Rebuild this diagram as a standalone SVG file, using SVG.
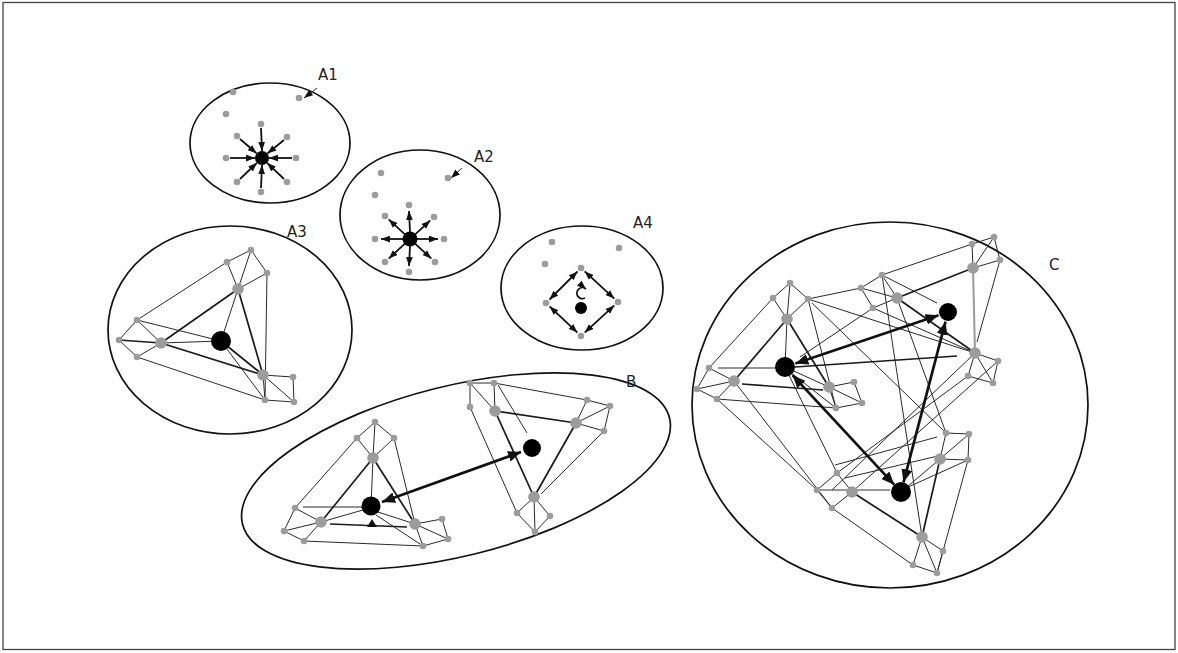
<svg xmlns="http://www.w3.org/2000/svg" width="1178" height="653" viewBox="0 0 1178 653">
<style>
.frame{fill:#fff;stroke:#444;stroke-width:1.3}
.ell{fill:none;stroke:#111;stroke-width:1.7}
.lbl{font-family:"DejaVu Sans",sans-serif;font-size:15px;fill:#222}
.t{stroke:#2a2a2a;stroke-width:1;fill:none}
.m{stroke:#1a1a1a;stroke-width:1.7;fill:none}
.g{stroke:#999;stroke-width:2;fill:none}
.sp{stroke:#111;stroke-width:1.8;fill:none}
.big{stroke:#111;stroke-width:2.7;fill:none}
.d{fill:#9c9c9c}
.h{fill:#000}
</style>
<defs>
<marker id="s" viewBox="0 0 8 6" refX="8" refY="3" markerWidth="9" markerHeight="7" markerUnits="userSpaceOnUse" orient="auto-start-reverse"><path d="M0,0 L8,3 L0,6 z" fill="#111"/></marker>
<marker id="b" viewBox="0 0 12 10" refX="12" refY="5" markerWidth="13" markerHeight="11" markerUnits="userSpaceOnUse" orient="auto-start-reverse"><path d="M0,0 L12,5 L0,10 z" fill="#111"/></marker>
</defs>
<rect class="frame" x="3" y="2.5" width="1172" height="647"/>

<g id="A1"><ellipse class="ell" cx="270" cy="143" rx="80" ry="60"/><text class="lbl" x="318" y="80">A1</text></g>
<g id="A2"><ellipse class="ell" cx="420" cy="215" rx="80" ry="65"/><text class="lbl" x="474" y="162">A2</text></g>
<g id="A3"><ellipse class="ell" cx="230" cy="330" rx="122" ry="104"/><text class="lbl" x="287" y="237">A3</text></g>
<g id="A4"><ellipse class="ell" cx="582" cy="288" rx="81" ry="62"/><text class="lbl" x="633" y="228">A4</text></g>
<g id="B"><ellipse class="ell" cx="456" cy="471" rx="220" ry="85" transform="rotate(-14 456 471)"/><text class="lbl" x="626" y="387">B</text></g>
<g id="C"><ellipse class="ell" cx="890" cy="405" rx="198" ry="183"/><text class="lbl" x="1049" y="270">C</text></g>

<g id="connectors">
<line class="t" x1="317" y1="88" x2="304" y2="98" marker-end="url(#s)"/>
<line class="t" x1="462" y1="168" x2="451" y2="178" marker-end="url(#s)"/>
<g class="sp" marker-end="url(#s)">
<line x1="261" y1="128" x2="262" y2="151"/>
<line x1="284" y1="140" x2="267.4" y2="153.5"/>
<line x1="292" y1="158" x2="269" y2="158"/>
<line x1="284" y1="179" x2="267" y2="162.8"/>
<line x1="261" y1="188" x2="262" y2="165"/>
<line x1="240" y1="179" x2="257" y2="162.8"/>
<line x1="230" y1="158" x2="255" y2="158"/>
<line x1="240" y1="139" x2="256.7" y2="153.4"/>
</g>
<g class="sp" marker-end="url(#s)">
<line x1="410" y1="232" x2="409" y2="211"/>
<line x1="415.2" y1="234.3" x2="430.3" y2="220.4"/>
<line x1="417" y1="239" x2="438" y2="239"/>
<line x1="415.1" y1="243.7" x2="431.3" y2="258.6"/>
<line x1="410" y1="246" x2="409" y2="266"/>
<line x1="404.9" y1="243.7" x2="388.7" y2="258.6"/>
<line x1="403" y1="239" x2="381" y2="239"/>
<line x1="404.9" y1="234.3" x2="388.7" y2="219.4"/>
</g>
<g class="sp" marker-start="url(#s)" marker-end="url(#s)">
<line x1="584.7" y1="271.4" x2="614.3" y2="298.6"/>
<line x1="614.3" y1="305.4" x2="584.7" y2="332.6"/>
<line x1="577.4" y1="332.6" x2="549.6" y2="306.4"/>
<line x1="549.5" y1="299.5" x2="577.5" y2="271.5"/>
</g>
<path class="sp" d="M585,298 A5.5,5.5 0 1 1 586,289" marker-end="url(#s)"/>

<g class="t">
<line x1="251" y1="250" x2="227" y2="262"/><line x1="251" y1="250" x2="267" y2="273"/><line x1="251" y1="250" x2="238" y2="289"/><line x1="227" y1="262" x2="238" y2="289"/><line x1="267" y1="273" x2="238" y2="289"/>
<line x1="137" y1="320" x2="119" y2="340"/><line x1="119" y1="340" x2="137" y2="357"/><line x1="137" y1="320" x2="161" y2="343"/><line x1="137" y1="357" x2="161" y2="343"/>
<line x1="263" y1="375" x2="293" y2="377"/><line x1="293" y1="377" x2="294" y2="402"/><line x1="294" y1="402" x2="265" y2="400"/><line x1="265" y1="400" x2="263" y2="375"/><line x1="263" y1="375" x2="294" y2="402"/>
<line x1="227" y1="262" x2="137" y2="320"/><line x1="267" y1="273" x2="265" y2="400"/><line x1="137" y1="357" x2="265" y2="400"/>
<line x1="221" y1="341" x2="238" y2="289"/><line x1="221" y1="341" x2="161" y2="343"/><line x1="137" y1="320" x2="221" y2="341"/><line x1="221" y1="341" x2="265" y2="400"/>
</g>
<g class="m">
<line x1="119" y1="340" x2="161" y2="343"/><line x1="238" y1="289" x2="161" y2="343"/><line x1="161" y1="343" x2="263" y2="375"/><line x1="238" y1="289" x2="263" y2="375"/><line x1="221" y1="341" x2="263" y2="375"/>
</g>

<g class="t">
<line x1="375" y1="422" x2="357" y2="438"/><line x1="375" y1="422" x2="394" y2="438"/><line x1="375" y1="422" x2="373" y2="458"/><line x1="357" y1="438" x2="373" y2="458"/><line x1="394" y1="438" x2="373" y2="458"/>
<line x1="373" y1="458" x2="371" y2="506"/><line x1="357" y1="438" x2="295" y2="508"/><line x1="394" y1="438" x2="415" y2="524"/>
<line x1="295" y1="508" x2="284" y2="531"/><line x1="284" y1="531" x2="304" y2="541"/><line x1="295" y1="508" x2="321" y2="522"/><line x1="284" y1="531" x2="321" y2="522"/><line x1="304" y1="541" x2="321" y2="522"/>
<line x1="303" y1="507" x2="363" y2="507"/><line x1="321" y1="522" x2="363" y2="510"/>
<line x1="378" y1="512" x2="415" y2="524"/><line x1="376" y1="515" x2="423" y2="546"/><line x1="304" y1="541" x2="423" y2="546"/>
<line x1="415" y1="524" x2="442" y2="519"/><line x1="442" y1="519" x2="448" y2="539"/><line x1="448" y1="539" x2="423" y2="546"/><line x1="415" y1="524" x2="448" y2="539"/><line x1="415" y1="524" x2="423" y2="546"/>
</g>
<g class="m">
<line x1="373" y1="458" x2="321" y2="522"/><line x1="373" y1="458" x2="415" y2="524"/><line x1="330" y1="524" x2="407" y2="527"/>
</g>
<path d="M372,519 L367,527 L377,527 z" fill="#111"/>

<g class="t">
<line x1="470" y1="383" x2="494" y2="383"/><line x1="470" y1="383" x2="470" y2="407"/><line x1="470" y1="383" x2="495" y2="411"/><line x1="494" y1="383" x2="495" y2="411"/>
<line x1="494" y1="383" x2="587" y2="400"/><line x1="498" y1="385" x2="527" y2="433"/><line x1="470" y1="407" x2="517" y2="513"/><line x1="604" y1="431" x2="541" y2="494"/>
<line x1="587" y1="400" x2="610" y2="406"/><line x1="587" y1="400" x2="576" y2="423"/><line x1="610" y1="406" x2="576" y2="423"/><line x1="610" y1="406" x2="604" y2="431"/><line x1="576" y1="423" x2="604" y2="431"/>
<line x1="534" y1="497" x2="517" y2="513"/><line x1="534" y1="497" x2="550" y2="516"/><line x1="534" y1="497" x2="535" y2="532"/><line x1="517" y1="513" x2="535" y2="532"/><line x1="550" y1="516" x2="535" y2="532"/>
</g>
<g class="m">
<line x1="495" y1="411" x2="576" y2="423"/><line x1="495" y1="411" x2="534" y2="497"/><line x1="576" y1="423" x2="534" y2="497"/>
</g>
<line class="big" x1="521" y1="452" x2="382" y2="502" marker-start="url(#b)" marker-end="url(#b)"/>

<g class="t">
<line x1="790" y1="283" x2="773" y2="298"/><line x1="790" y1="283" x2="808" y2="299"/><line x1="790" y1="283" x2="787" y2="319"/><line x1="773" y1="298" x2="787" y2="319"/><line x1="808" y1="299" x2="787" y2="319"/>
<line x1="709" y1="368" x2="697" y2="389"/><line x1="697" y1="389" x2="717" y2="399"/><line x1="709" y1="368" x2="734" y2="381"/><line x1="697" y1="389" x2="734" y2="381"/><line x1="717" y1="399" x2="734" y2="381"/>
<line x1="829" y1="387" x2="854" y2="382"/><line x1="854" y1="382" x2="862" y2="403"/><line x1="862" y1="403" x2="836" y2="408"/><line x1="829" y1="387" x2="862" y2="403"/><line x1="829" y1="387" x2="836" y2="408"/>
<line x1="773" y1="298" x2="709" y2="368"/><line x1="717" y1="399" x2="836" y2="408"/><line x1="808" y1="299" x2="836" y2="408"/>
<line x1="787" y1="319" x2="785" y2="367"/><line x1="718" y1="368" x2="775" y2="368"/><line x1="785" y1="367" x2="829" y2="387"/><line x1="790" y1="372" x2="836" y2="408"/>
</g>
<g class="m">
<line x1="787" y1="319" x2="734" y2="381"/><line x1="742" y1="384" x2="823" y2="390"/><line x1="787" y1="319" x2="829" y2="387"/>
</g>
<g class="t">
<line x1="882" y1="275" x2="861" y2="288"/><line x1="861" y1="288" x2="873" y2="308"/><line x1="882" y1="275" x2="897" y2="298"/><line x1="861" y1="288" x2="897" y2="298"/><line x1="873" y1="308" x2="897" y2="298"/>
<line x1="972" y1="244" x2="994" y2="237"/><line x1="994" y1="237" x2="1000" y2="260"/><line x1="972" y1="244" x2="973" y2="268"/><line x1="994" y1="237" x2="973" y2="268"/><line x1="1000" y1="260" x2="973" y2="268"/>
<line x1="975" y1="353" x2="998" y2="361"/><line x1="998" y1="361" x2="993" y2="383"/><line x1="993" y1="383" x2="968" y2="376"/><line x1="975" y1="353" x2="968" y2="376"/><line x1="975" y1="353" x2="993" y2="383"/>
<line x1="882" y1="275" x2="972" y2="244"/><line x1="1000" y1="260" x2="977" y2="342"/><line x1="873" y1="308" x2="975" y2="353"/><line x1="882" y1="275" x2="937" y2="303"/>
</g>
<g class="m">
<line x1="897" y1="298" x2="973" y2="268"/><line x1="897" y1="298" x2="975" y2="353"/>
</g>
<line class="g" x1="973" y1="268" x2="975" y2="353"/>
<g class="t">
<line x1="837" y1="473" x2="817" y2="490"/><line x1="817" y1="490" x2="832" y2="508"/><line x1="837" y1="473" x2="852" y2="492"/><line x1="832" y1="508" x2="852" y2="492"/>
<line x1="946" y1="433" x2="969" y2="434"/><line x1="969" y1="434" x2="968" y2="460"/><line x1="946" y1="433" x2="940" y2="459"/><line x1="969" y1="434" x2="940" y2="459"/><line x1="968" y1="460" x2="940" y2="459"/>
<line x1="922" y1="537" x2="943" y2="551"/><line x1="943" y1="551" x2="937" y2="573"/><line x1="937" y1="573" x2="913" y2="565"/><line x1="913" y1="565" x2="922" y2="537"/><line x1="922" y1="537" x2="937" y2="573"/>
<line x1="832" y1="508" x2="913" y2="565"/><line x1="968" y1="460" x2="937" y2="573"/><line x1="835" y1="465" x2="937" y2="437"/>
<line x1="901" y1="492" x2="940" y2="459"/><line x1="906" y1="488" x2="968" y2="460"/><line x1="845" y1="478" x2="942" y2="455"/>
</g>
<line class="g" x1="817" y1="490" x2="890" y2="490"/>
<g class="m">
<line x1="852" y1="492" x2="922" y2="537"/><line x1="940" y1="459" x2="922" y2="537"/>
</g>
<g class="t">
<line x1="808" y1="299" x2="861" y2="288"/><line x1="812" y1="303" x2="946" y2="433"/><line x1="873" y1="308" x2="800" y2="357"/>
<line x1="968" y1="376" x2="837" y2="473"/><line x1="975" y1="353" x2="832" y2="490"/><line x1="998" y1="361" x2="852" y2="492"/>
<line x1="897" y1="298" x2="946" y2="433"/><line x1="882" y1="275" x2="922" y2="537"/>
<line x1="717" y1="399" x2="817" y2="490"/><line x1="734" y1="381" x2="832" y2="508"/><line x1="785" y1="367" x2="837" y2="473"/>
<line x1="808" y1="299" x2="975" y2="353"/>
</g>
<line class="m" x1="795" y1="367" x2="957" y2="356"/>
<g class="big" marker-start="url(#b)" marker-end="url(#b)">
<line x1="795.4" y1="363.5" x2="938.5" y2="315.2"/>
<line x1="792.5" y1="375.1" x2="894.2" y2="484.7"/>
<line x1="945.5" y1="321.7" x2="903.5" y2="482.3"/>
</g>
</g>

<g id="dots">
<g class="d">
<circle cx="233" cy="92" r="3.3"/><circle cx="299" cy="98" r="3.3"/><circle cx="226" cy="114" r="3.3"/><circle cx="261" cy="124" r="3.3"/><circle cx="287" cy="137" r="3.3"/><circle cx="296" cy="158" r="3.3"/><circle cx="287" cy="182" r="3.3"/><circle cx="261" cy="192" r="3.3"/><circle cx="237" cy="182" r="3.3"/><circle cx="226" cy="158" r="3.3"/><circle cx="237" cy="136" r="3.3"/>
<circle cx="381" cy="173" r="3.3"/><circle cx="448" cy="178" r="3.3"/><circle cx="375" cy="195" r="3.3"/><circle cx="409" cy="205" r="3.3"/><circle cx="434" cy="217" r="3.3"/><circle cx="444" cy="239" r="3.3"/><circle cx="435" cy="262" r="3.3"/><circle cx="409" cy="272" r="3.3"/><circle cx="385" cy="262" r="3.3"/><circle cx="375" cy="239" r="3.3"/><circle cx="385" cy="216" r="3.3"/>
<circle cx="552" cy="242" r="3.3"/><circle cx="619" cy="248" r="3.3"/><circle cx="545" cy="264" r="3.3"/><circle cx="581" cy="268" r="3.3"/><circle cx="618" cy="302" r="3.3"/><circle cx="581" cy="336" r="3.3"/><circle cx="546" cy="303" r="3.3"/>
<circle cx="251" cy="250" r="3.3"/><circle cx="227" cy="262" r="3.3"/><circle cx="267" cy="273" r="3.3"/><circle cx="137" cy="320" r="3.3"/><circle cx="119" cy="340" r="3.3"/><circle cx="137" cy="357" r="3.3"/><circle cx="293" cy="377" r="3.3"/><circle cx="265" cy="400" r="3.3"/><circle cx="294" cy="402" r="3.3"/>
<circle cx="238" cy="289" r="5.8"/><circle cx="161" cy="343" r="5.8"/><circle cx="263" cy="375" r="5.8"/>
<circle cx="375" cy="422" r="3.3"/><circle cx="357" cy="438" r="3.3"/><circle cx="394" cy="438" r="3.3"/><circle cx="295" cy="508" r="3.3"/><circle cx="284" cy="531" r="3.3"/><circle cx="304" cy="541" r="3.3"/><circle cx="442" cy="519" r="3.3"/><circle cx="448" cy="539" r="3.3"/><circle cx="423" cy="546" r="3.3"/>
<circle cx="373" cy="458" r="5.8"/><circle cx="321" cy="522" r="5.8"/><circle cx="415" cy="524" r="5.8"/>
<circle cx="470" cy="383" r="3.3"/><circle cx="494" cy="383" r="3.3"/><circle cx="470" cy="407" r="3.3"/><circle cx="587" cy="400" r="3.3"/><circle cx="610" cy="406" r="3.3"/><circle cx="604" cy="431" r="3.3"/><circle cx="517" cy="513" r="3.3"/><circle cx="550" cy="516" r="3.3"/><circle cx="535" cy="532" r="3.3"/>
<circle cx="495" cy="411" r="5.8"/><circle cx="576" cy="423" r="5.8"/><circle cx="534" cy="497" r="5.8"/>
<circle cx="790" cy="283" r="3.3"/><circle cx="773" cy="298" r="3.3"/><circle cx="808" cy="299" r="3.3"/><circle cx="709" cy="368" r="3.3"/><circle cx="697" cy="389" r="3.3"/><circle cx="717" cy="399" r="3.3"/><circle cx="854" cy="382" r="3.3"/><circle cx="862" cy="403" r="3.3"/><circle cx="836" cy="408" r="3.3"/>
<circle cx="787" cy="319" r="5.8"/><circle cx="734" cy="381" r="5.8"/><circle cx="829" cy="387" r="5.8"/>
<circle cx="882" cy="275" r="3.3"/><circle cx="861" cy="288" r="3.3"/><circle cx="873" cy="308" r="3.3"/><circle cx="972" cy="244" r="3.3"/><circle cx="994" cy="237" r="3.3"/><circle cx="1000" cy="260" r="3.3"/><circle cx="998" cy="361" r="3.3"/><circle cx="968" cy="376" r="3.3"/><circle cx="993" cy="383" r="3.3"/>
<circle cx="897" cy="298" r="5.8"/><circle cx="973" cy="268" r="5.8"/><circle cx="975" cy="353" r="5.8"/>
<circle cx="837" cy="473" r="3.3"/><circle cx="817" cy="490" r="3.3"/><circle cx="832" cy="508" r="3.3"/><circle cx="946" cy="433" r="3.3"/><circle cx="969" cy="434" r="3.3"/><circle cx="968" cy="460" r="3.3"/><circle cx="943" cy="551" r="3.3"/><circle cx="913" cy="565" r="3.3"/><circle cx="937" cy="573" r="3.3"/>
<circle cx="852" cy="492" r="5.8"/><circle cx="940" cy="459" r="5.8"/><circle cx="922" cy="537" r="5.8"/>
</g>
<g class="h">
<circle cx="262" cy="158" r="7"/><circle cx="410" cy="239" r="7.5"/><circle cx="581" cy="308" r="6"/>
<circle cx="221" cy="341" r="10"/><circle cx="371" cy="506" r="9.5"/><circle cx="532" cy="448" r="9"/>
<circle cx="785" cy="367" r="10"/><circle cx="948" cy="312" r="9"/><circle cx="901" cy="492" r="10"/>
</g>
</g>
</svg>
